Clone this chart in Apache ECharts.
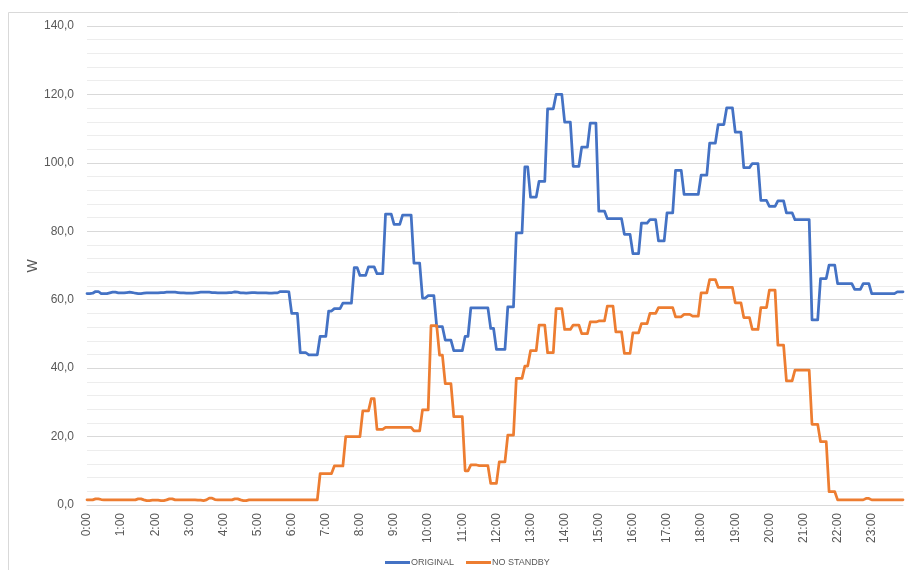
<!DOCTYPE html>
<html>
<head>
<meta charset="utf-8">
<title>ORIGINAL / NO STANDBY</title>
<script src="https://cdn.jsdelivr.net/npm/echarts@6/dist/echarts.min.js"></script>
<style>
  html, body { margin: 0; padding: 0; background: #fff; }
  #chart { width: 908px; height: 570px; }
</style>
</head>
<body>
<div id="chart"></div>
<script>
// 5-minute samples over one day (one row = one hour)
var hourLabels = ['0:00', '1:00', '2:00', '3:00', '4:00', '5:00', '6:00', '7:00', '8:00', '9:00', '10:00', '11:00',
  '12:00', '13:00', '14:00', '15:00', '16:00', '17:00', '18:00', '19:00', '20:00', '21:00', '22:00', '23:00'];
var seriesNames = ['ORIGINAL', 'NO STANDBY'];
var unitName = 'W';

var original = [
  61.8, 61.8, 61.9, 62.4, 62.4, 61.8, 61.8, 61.8, 62.0, 62.2, 62.2, 62.0,
  62.0, 62.0, 62.1, 62.2, 62.1, 61.9, 61.8, 61.8, 61.9, 62.0, 62.0, 62.0,
  62.0, 62.0, 62.1, 62.1, 62.2, 62.2, 62.2, 62.2, 62.1, 62.0, 62.0, 61.9,
  61.9, 61.9, 62.0, 62.1, 62.2, 62.2, 62.2, 62.2, 62.1, 62.1, 62.0, 62.0,
  62.0, 62.0, 62.1, 62.1, 62.3, 62.2, 62.0, 62.0, 61.9, 62.0, 62.1, 62.1,
  62.0, 62.0, 62.0, 62.0, 61.9, 61.9, 62.0, 62.0, 62.4, 62.4, 62.4, 62.3,
  56.0, 56.0, 56.0, 44.5, 44.5, 44.5, 43.9, 43.9, 43.9, 43.9, 49.3, 49.3,
  49.3, 56.7, 56.7, 57.4, 57.4, 57.4, 59.0, 59.0, 59.0, 59.0, 69.4, 69.4,
  67.1, 67.1, 67.1, 69.6, 69.6, 69.6, 67.6, 67.6, 67.6, 85.0, 85.0, 85.0,
  82.0, 82.0, 82.0, 84.7, 84.7, 84.7, 84.7, 70.7, 70.7, 70.7, 60.5, 60.5,
  61.2, 61.2, 61.2, 52.1, 52.1, 52.1, 48.2, 48.2, 48.2, 45.1, 45.1, 45.1,
  45.1, 49.3, 49.3, 57.6, 57.6, 57.6, 57.6, 57.6, 57.6, 57.6, 51.6, 51.6,
  45.5, 45.5, 45.5, 45.5, 57.9, 57.9, 57.9, 79.5, 79.5, 79.5, 98.8, 98.8,
  90.0, 90.0, 90.0, 94.6, 94.6, 94.6, 115.8, 115.8, 115.8, 120.0, 120.0, 120.0,
  111.9, 111.9, 111.9, 99.0, 99.0, 99.0, 104.6, 104.6, 104.6, 111.6, 111.6, 111.6,
  85.9, 85.9, 85.9, 83.7, 83.7, 83.7, 83.7, 83.7, 83.7, 79.1, 79.1, 79.1,
  73.5, 73.5, 73.5, 82.4, 82.4, 82.4, 83.4, 83.4, 83.4, 77.2, 77.2, 77.2,
  85.4, 85.4, 85.4, 97.8, 97.8, 97.8, 90.8, 90.8, 90.8, 90.8, 90.8, 90.8,
  96.4, 96.4, 96.4, 105.8, 105.8, 105.8, 111.2, 111.2, 111.2, 116.1, 116.1, 116.1,
  109.0, 109.0, 109.0, 98.6, 98.6, 98.6, 99.8, 99.8, 99.8, 89.0, 89.0, 89.0,
  87.3, 87.3, 87.3, 88.9, 88.9, 88.9, 85.4, 85.4, 85.4, 83.4, 83.4, 83.4,
  83.4, 83.4, 83.4, 54.1, 54.1, 54.1, 66.2, 66.2, 66.2, 70.1, 70.1, 70.1,
  64.7, 64.7, 64.7, 64.7, 64.7, 64.7, 63.0, 63.0, 63.0, 64.7, 64.7, 64.7,
  61.8, 61.8, 61.8, 61.8, 61.8, 61.8, 61.8, 61.8, 61.8, 62.3, 62.3, 62.3
];

var noStandby = [
  1.5, 1.5, 1.5, 1.8, 1.8, 1.6, 1.5, 1.5, 1.5, 1.5, 1.5, 1.5,
  1.5, 1.5, 1.5, 1.5, 1.5, 1.5, 1.8, 1.8, 1.5, 1.3, 1.3, 1.4,
  1.4, 1.4, 1.3, 1.3, 1.5, 1.8, 1.8, 1.5, 1.5, 1.5, 1.5, 1.5,
  1.5, 1.5, 1.5, 1.4, 1.4, 1.3, 1.5, 2.0, 2.0, 1.6, 1.5, 1.5,
  1.5, 1.5, 1.5, 1.5, 1.8, 1.8, 1.5, 1.3, 1.3, 1.5, 1.5, 1.5,
  1.5, 1.5, 1.5, 1.5, 1.5, 1.5, 1.5, 1.5, 1.5, 1.5, 1.5, 1.5,
  1.5, 1.5, 1.5, 1.5, 1.5, 1.5, 1.5, 1.5, 1.5, 1.5, 9.2, 9.2,
  9.2, 9.2, 9.2, 11.4, 11.4, 11.4, 11.4, 20.0, 20.0, 20.0, 20.0, 20.0,
  20.0, 27.5, 27.5, 27.5, 31.1, 31.1, 22.1, 22.1, 22.1, 22.7, 22.7, 22.7,
  22.7, 22.7, 22.7, 22.7, 22.7, 22.7, 22.7, 21.7, 21.7, 21.7, 27.8, 27.8,
  27.8, 52.4, 52.4, 52.4, 43.8, 43.8, 35.5, 35.5, 35.5, 25.8, 25.8, 25.8,
  25.8, 10.0, 10.0, 11.7, 11.7, 11.7, 11.5, 11.5, 11.5, 11.5, 6.3, 6.3,
  6.3, 12.6, 12.6, 12.6, 20.4, 20.4, 20.4, 37.0, 37.0, 37.0, 40.6, 40.6,
  45.1, 45.1, 45.1, 52.6, 52.6, 52.6, 44.5, 44.5, 44.5, 57.4, 57.4, 57.4,
  51.3, 51.3, 51.3, 52.6, 52.6, 52.6, 50.1, 50.1, 50.1, 53.5, 53.5, 53.5,
  53.8, 53.8, 53.8, 58.1, 58.1, 58.1, 50.6, 50.6, 50.6, 44.3, 44.3, 44.3,
  50.3, 50.3, 50.3, 53.0, 53.0, 53.0, 56.0, 56.0, 56.0, 57.7, 57.7, 57.7,
  57.7, 57.7, 57.7, 55.0, 55.0, 55.0, 55.7, 55.7, 55.7, 55.2, 55.2, 55.2,
  62.0, 62.0, 62.0, 65.9, 65.9, 65.9, 63.6, 63.6, 63.6, 63.6, 63.6, 63.6,
  59.1, 59.1, 59.1, 54.8, 54.8, 54.8, 51.3, 51.3, 51.3, 57.7, 57.7, 57.7,
  62.8, 62.8, 62.8, 46.7, 46.7, 46.7, 36.3, 36.3, 36.3, 39.4, 39.4, 39.4,
  39.4, 39.4, 39.4, 23.6, 23.6, 23.6, 18.5, 18.5, 18.5, 3.9, 3.9, 3.9,
  1.5, 1.5, 1.5, 1.5, 1.5, 1.5, 1.5, 1.5, 1.5, 1.5, 1.9, 1.9,
  1.5, 1.5, 1.5, 1.5, 1.5, 1.5, 1.5, 1.5, 1.5, 1.5, 1.5, 1.5
];

// category per sample: "h:mm"; only the full hours get a label
var times = [];
for (var i = 0; i < original.length; i++) {
  var h = Math.floor(i / 12), m = (i % 12) * 5;
  times.push(h + ':' + (m < 10 ? '0' : '') + m);
}

var textColor = '#595959';
var fontFamily = '"Liberation Sans", Arial, sans-serif';

var chart = echarts.init(document.getElementById('chart'));

chart.setOption({
  animation: false,
  color: ['#4472C4', '#ED7D31'],
  textStyle: { fontFamily: fontFamily },
  graphic: [
    // chart border like the Excel frame
    {
      type: 'rect',
      shape: { x: 8.5, y: 12.5, width: 920, height: 600 },
      style: { fill: 'none', stroke: '#d9d9d9', lineWidth: 1 },
      silent: true
    },
    // y axis title, placed by hand (axis name gets pushed off by the labels)
    {
      type: 'text',
      x: 33,
      y: 266,
      rotation: Math.PI / 2,
      style: {
        text: unitName,
        fill: textColor,
        font: '14px ' + fontFamily,
        textAlign: 'center',
        textVerticalAlign: 'middle'
      },
      silent: true
    }
  ],
  legend: {
    data: seriesNames,
    left: 380,
    top: 553,
    icon: 'rect',
    itemWidth: 25,
    itemHeight: 3,
    itemGap: 12,
    textStyle: { color: textColor, fontSize: 9, padding: [0, 0, 0, -4] }
  },
  grid: { left: 87, right: 5, top: 26, bottom: 65, containLabel: false },
  xAxis: {
    type: 'category',
    data: times,
    boundaryGap: false,
    axisLine: { lineStyle: { color: '#d9d9d9' } },
    axisTick: { show: false },
    axisLabel: {
      interval: 11,
      rotate: 90,
      margin: 8,
      color: textColor,
      fontSize: 12,
      formatter: function (v, idx) {
        return idx % 12 === 0 ? hourLabels[idx / 12] : '';
      }
    }
  },
  yAxis: {
    type: 'value',
    min: 0,
    max: 140,
    interval: 20,
    axisLine: { show: false },
    axisTick: { show: false },
    axisLabel: {
      color: textColor,
      fontSize: 12,
      margin: 13,
      formatter: function (v) { return v.toFixed(1).replace('.', ','); }
    },
    splitLine: { lineStyle: { color: '#d9d9d9' } },
    minorTick: { show: false, splitNumber: 5 },
    minorSplitLine: { show: true, lineStyle: { color: '#ededed' } }
  },
  series: [
    {
      name: seriesNames[0],
      type: 'line',
      data: original,
      symbol: 'none',
      lineStyle: { width: 2.75, join: 'round', cap: 'round' }
    },
    {
      name: seriesNames[1],
      type: 'line',
      data: noStandby,
      symbol: 'none',
      lineStyle: { width: 2.75, join: 'round', cap: 'round' }
    }
  ]
});
</script>
</body>
</html>
